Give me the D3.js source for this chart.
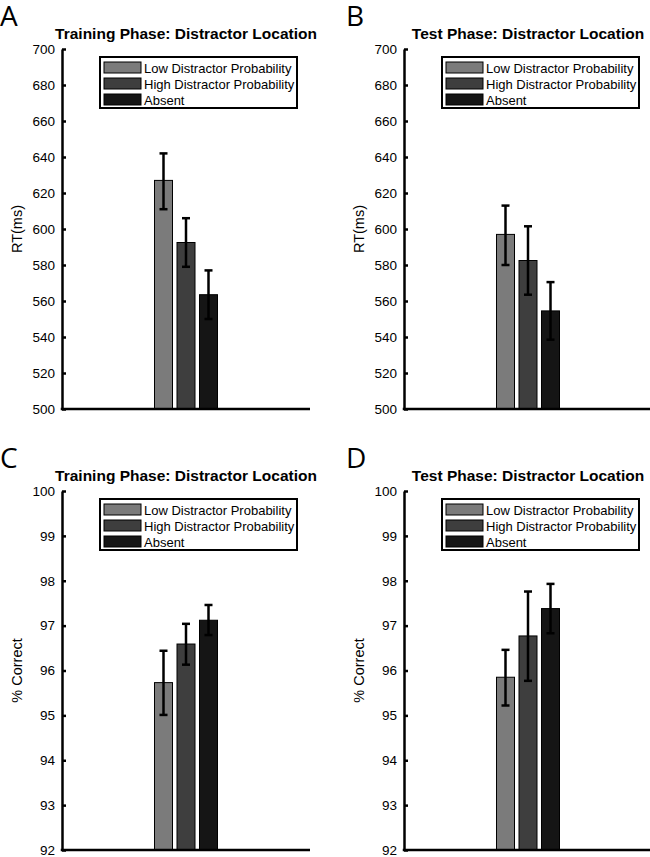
<!DOCTYPE html>
<html>
<head>
<meta charset="utf-8">
<script src="https://cdn.jsdelivr.net/npm/d3@7"></script>
<style>
body { margin: 0; background: #fff; }
svg { display: block; font-family: "Liberation Sans", Arial, sans-serif; }
</style>
</head>
<body>
<svg id="fig" width="650" height="857"></svg>
<script>
// conditions and colours
const conditions = ["Low Distractor Probability", "High Distractor Probability", "Absent"];
const barColors = ["#7b7b7b", "#3e3e3e", "#151515"];

// RT (ms), panels A and B
const rtTicks = [500, 520, 540, 560, 580, 600, 620, 640, 660, 680, 700];
const rtTrain = [627, 592.5, 563.5];
const rtTrainLo = [611, 579, 550];
const rtTrainHi = [642, 606, 577];
const rtTest = [597, 582.5, 554.5];
const rtTestLo = [580, 563.5, 538.5];
const rtTestHi = [613, 601.5, 570.5];

// accuracy (% correct), panels C and D
const accTicks = [92, 93, 94, 95, 96, 97, 98, 99, 100];
const accTrain = [95.73, 96.59, 97.12];
const accTrainLo = [95.01, 96.13, 96.79];
const accTrainHi = [96.44, 97.04, 97.46];
const accTest = [95.85, 96.77, 97.38];
const accTestLo = [95.22, 95.77, 96.83];
const accTestHi = [96.46, 97.76, 97.93];

const svg = d3.select("#fig");

function drawPanel(ax, letter, letterX, title, ylab, ticks, vals, lo, hi, left, top, bottom) {
  const width = 248;
  const y = d3.scaleLinear().domain(d3.extent(ticks)).range([bottom, top]);
  const xAxis = d3.scaleLinear().domain([0, 2]).range([left, left + width]);
  const cx = xAxis(1);
  const x = d3.scaleBand().domain(conditions).range([cx - 31.5, cx + 31.5]).paddingInner(0.2);

  const g = ax.append("g");

  // panel letter
  g.append("text")
    .attr("x", letterX)
    .attr("y", top - 23)
    .attr("font-family", "'Open Sans', 'DejaVu Sans', sans-serif")
    .attr("font-size", 28)
    .attr("fill", "black")
    .text(letter);

  // title
  g.append("text")
    .attr("x", cx)
    .attr("y", top - 10)
    .attr("text-anchor", "middle")
    .attr("font-weight", "bold")
    .attr("font-size", 15.5)
    .text(title);

  // bars
  g.selectAll(".bar")
    .data(vals)
    .join("rect")
    .attr("x", (d, i) => x(conditions[i]))
    .attr("y", d => y(d))
    .attr("width", x.bandwidth())
    .attr("height", d => y(y.domain()[0]) - y(d))
    .attr("fill", (d, i) => barColors[i])
    .attr("stroke", "black")
    .attr("stroke-width", 1);

  // error bars
  const eb = g.selectAll(".err")
    .data(vals)
    .join("g");
  eb.append("line")
    .attr("x1", (d, i) => x(conditions[i]) + x.bandwidth() / 2)
    .attr("x2", (d, i) => x(conditions[i]) + x.bandwidth() / 2)
    .attr("y1", (d, i) => y(lo[i]))
    .attr("y2", (d, i) => y(hi[i]))
    .attr("stroke", "black").attr("stroke-width", 2.5);
  [lo, hi].forEach(arr => {
    eb.append("line")
      .attr("x1", (d, i) => x(conditions[i]) + x.bandwidth() / 2 - 4)
      .attr("x2", (d, i) => x(conditions[i]) + x.bandwidth() / 2 + 4)
      .attr("y1", (d, i) => y(arr[i]))
      .attr("y2", (d, i) => y(arr[i]))
      .attr("stroke", "black").attr("stroke-width", 2.5);
  });

  // axes
  const yAx = g.append("g")
    .attr("transform", `translate(${left},0)`)
    .call(d3.axisRight(y).tickValues(ticks).tickSize(4).tickSizeOuter(0).tickFormat(d3.format("d")));
  yAx.select(".domain").attr("stroke-width", 2.5);
  yAx.selectAll(".tick line").attr("stroke-width", 2.5);
  yAx.selectAll(".tick text")
    .attr("x", -7)
    .attr("text-anchor", "end")
    .attr("font-size", 13.5)
    .attr("font-family", "'Liberation Sans', Arial, sans-serif")
    .attr("fill", "black");

  g.append("line")
    .attr("x1", left - 1.25).attr("x2", left + width)
    .attr("y1", bottom).attr("y2", bottom)
    .attr("stroke", "black").attr("stroke-width", 2.5);

  // y label
  g.append("text")
    .attr("transform", `translate(${left - 40}, ${(top + bottom) / 2}) rotate(-90)`)
    .attr("text-anchor", "middle")
    .attr("font-size", 14.5)
    .text(ylab);

  // legend
  const lg = g.append("g").attr("transform", `translate(${left + 38}, ${top + 8})`);
  lg.append("rect")
    .attr("width", 197).attr("height", 51)
    .attr("fill", "white").attr("stroke", "black").attr("stroke-width", 2);
  const items = lg.selectAll(".item")
    .data(conditions)
    .join("g")
    .attr("transform", (d, i) => `translate(4, ${5 + i * 16})`);
  items.append("rect")
    .attr("width", 37).attr("height", 11)
    .attr("fill", (d, i) => barColors[i])
    .attr("stroke", "black").attr("stroke-width", 1);
  items.append("text")
    .attr("x", 40).attr("y", 10.5)
    .attr("font-size", 13)
    .text(d => d);
}

drawPanel(svg, "A", 0, "Training Phase: Distractor Location", "RT(ms)", rtTicks, rtTrain, rtTrainLo, rtTrainHi, 62, 49, 409);
drawPanel(svg, "B", 346, "Test Phase: Distractor Location", "RT(ms)", rtTicks, rtTest, rtTestLo, rtTestHi, 404, 49, 409);
drawPanel(svg, "C", 0, "Training Phase: Distractor Location", "% Correct", accTicks, accTrain, accTrainLo, accTrainHi, 62, 491, 850);
drawPanel(svg, "D", 346, "Test Phase: Distractor Location", "% Correct", accTicks, accTest, accTestLo, accTestHi, 404, 491, 850);
</script>
</body>
</html>
